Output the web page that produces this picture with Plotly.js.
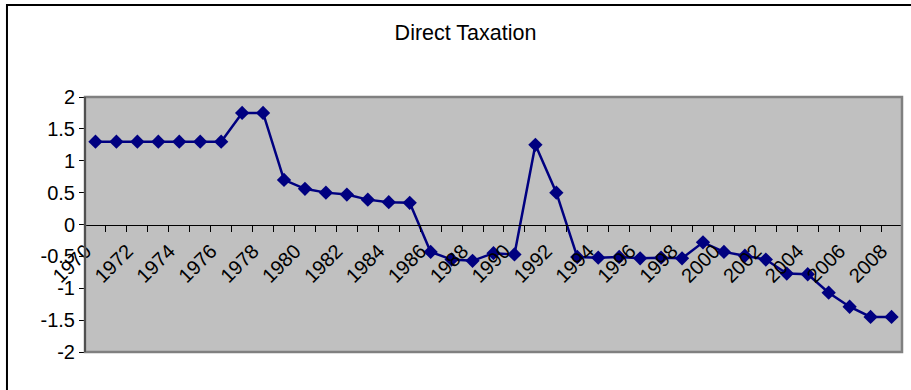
<!DOCTYPE html>
<html>
<head>
<meta charset="utf-8">
<script src="https://cdn.plot.ly/plotly-3.0.1.min.js"></script>
<style>
  html, body { margin: 0; padding: 0; background: #ffffff; }
  #chart { width: 911px; height: 390px; }
</style>
</head>
<body>
<div id="chart"></div>
<script>
const years = [1970, 1971, 1972, 1973, 1974, 1975, 1976, 1977, 1978, 1979,
               1980, 1981, 1982, 1983, 1984, 1985, 1986, 1987, 1988, 1989,
               1990, 1991, 1992, 1993, 1994, 1995, 1996, 1997, 1998, 1999,
               2000, 2001, 2002, 2003, 2004, 2005, 2006, 2007, 2008];
const directTaxation = [1.3, 1.3, 1.3, 1.3, 1.3, 1.3, 1.3, 1.75, 1.75, 0.70,
                        0.56, 0.50, 0.47, 0.39, 0.35, 0.34, -0.43, -0.55, -0.57, -0.45,
                        -0.47, 1.25, 0.50, -0.51, -0.52, -0.51, -0.53, -0.52, -0.53, -0.28,
                        -0.43, -0.49, -0.55, -0.77, -0.78, -1.07, -1.29, -1.45, -1.45];
const xTickVals = [1970, 1972, 1974, 1976, 1978, 1980, 1982, 1984, 1986, 1988,
                   1990, 1992, 1994, 1996, 1998, 2000, 2002, 2004, 2006, 2008];
const xTickText = ['1970', '1972', '1974', '1976', '1978', '1980', '1982', '1984', '1986', '1988',
                   '1990', '1992', '1994', '1996', '1998', '2000', '2002', '2004', '2006', '2008'];
const yTickVals = [2, 1.5, 1, 0.5, 0, -0.5, -1, -1.5, -2];
const yTickText = ['2', '1.5', '1', '0.5', '0', '-0.5', '-1', '-1.5', '-2'];
const chartTitle = 'Direct Taxation';

const FONT = '"Liberation Sans", Arial, sans-serif';

const trace = {
  x: years,
  y: directTaxation,
  type: 'scatter',
  mode: 'lines+markers',
  line: { color: '#000080', width: 2.5 },
  marker: { symbol: 'diamond', size: 11, color: '#000080' },
  cliponaxis: false,
  hoverinfo: 'x+y'
};

const layout = {
  width: 911,
  height: 390,
  margin: { l: 85, r: 9, t: 97, b: 38 },
  paper_bgcolor: '#ffffff',
  plot_bgcolor: '#C0C0C0',
  showlegend: false,
  font: { family: FONT, color: '#000000', size: 20 },
  title: {
    text: chartTitle,
    font: { family: FONT, size: 21.5, color: '#000000' },
    xref: 'container', x: 0.511, xanchor: 'center',
    yref: 'container', y: 0.918, yanchor: 'middle'
  },
  xaxis: {
    type: 'linear',
    range: [1969.5, 2008.5],
    anchor: 'free',
    position: 0.5,
    showgrid: false,
    zeroline: false,
    showline: true,
    linecolor: '#000000',
    linewidth: 1,
    tickmode: 'array',
    tickvals: xTickVals,
    ticktext: xTickText,
    ticks: '',
    tickangle: -45,
    ticklabelstandoff: 6,
    ticklabelshift: -10,
    tickfont: { family: FONT, size: 20, color: '#000000' },
    minor: { tick0: 1969.5, dtick: 1, ticks: 'outside', ticklen: 6, tickcolor: '#000000', tickwidth: 1, showgrid: false }
  },
  yaxis: {
    range: [-2, 2],
    showgrid: false,
    zeroline: false,
    showline: false,
    tickmode: 'array',
    tickvals: yTickVals,
    ticktext: yTickText,
    ticks: 'outside',
    ticklen: 5,
    tickcolor: '#000000',
    tickwidth: 1,
    ticklabelstandoff: 0,
    tickfont: { family: FONT, size: 20, color: '#000000' }
  },
  shapes: [
    {
      type: 'rect', xref: 'paper', yref: 'paper',
      x0: 0, x1: 1, y0: 0, y1: 1,
      line: { color: '#808080', width: 2.5 },
      layer: 'above'
    },
    {
      type: 'line', xref: 'paper', yref: 'paper',
      x0: 0, x1: 0, y0: 0, y1: 1,
      line: { color: '#404040', width: 1.5 },
      layer: 'above'
    },
    {
      type: 'rect', xref: 'paper', yref: 'paper',
      x0: -0.0955, x1: 1.2, y0: -0.5, y1: 1.3608,
      line: { color: '#000000', width: 2 },
      layer: 'above'
    }
  ]
};

Plotly.newPlot('chart', [trace], layout, { displayModeBar: false, staticPlot: true });
</script>
</body>
</html>
